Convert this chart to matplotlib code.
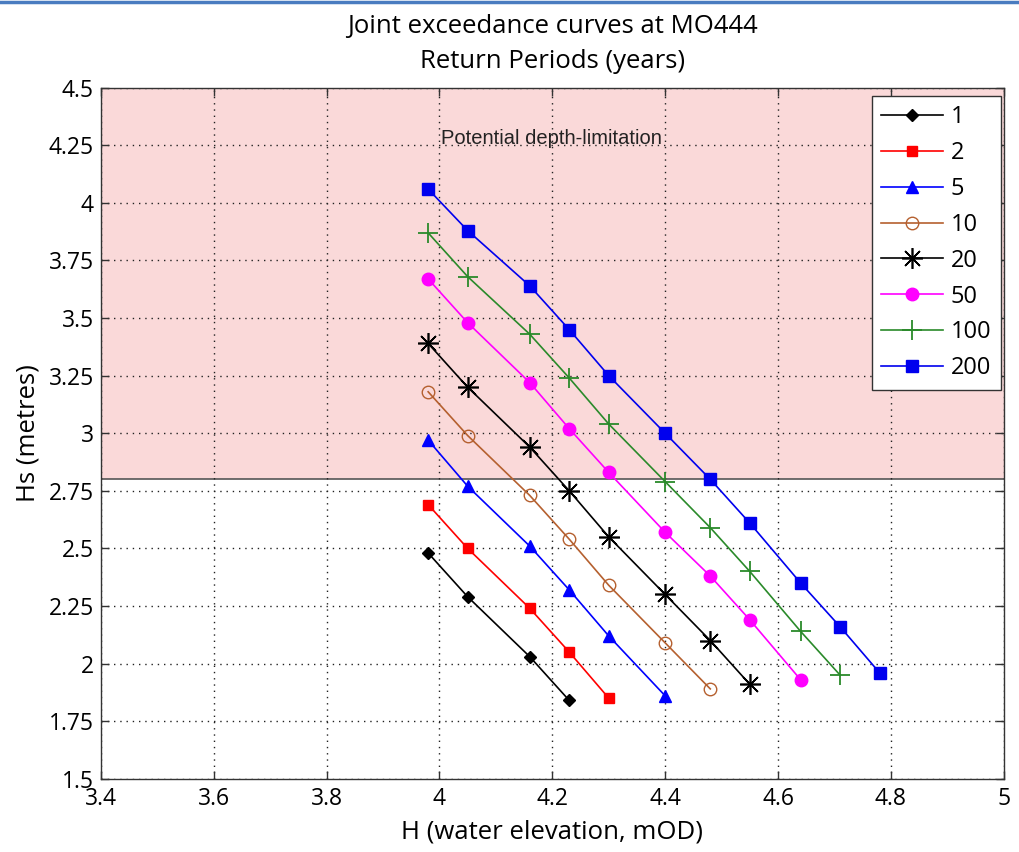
import matplotlib
matplotlib.use("Agg")
import matplotlib.pyplot as plt
from matplotlib.lines import Line2D
from matplotlib.patches import Rectangle

H_levels = [3.98, 4.05, 4.16, 4.23, 4.30, 4.40, 4.48, 4.55, 4.64, 4.71, 4.78]
rp_labels = ["1", "2", "5", "10", "20", "50", "100", "200"]
hs_1 = [2.48, 2.29, 2.03, 1.84]
hs_2 = [2.69, 2.50, 2.24, 2.05, 1.85]
hs_5 = [2.97, 2.77, 2.51, 2.32, 2.12, 1.86]
hs_10 = [3.18, 2.99, 2.73, 2.54, 2.34, 2.09, 1.89]
hs_20 = [3.39, 3.20, 2.94, 2.75, 2.55, 2.30, 2.10, 1.91]
hs_50 = [3.67, 3.48, 3.22, 3.02, 2.83, 2.57, 2.38, 2.19, 1.93]
hs_100 = [3.87, 3.68, 3.43, 3.24, 3.04, 2.79, 2.59, 2.40, 2.14, 1.95]
hs_200 = [4.06, 3.88, 3.64, 3.45, 3.25, 3.00, 2.80, 2.61, 2.35, 2.16, 1.96]
depth_limit = 2.8

x_ticks = [3.4, 3.6, 3.8, 4.0, 4.2, 4.4, 4.6, 4.8, 5.0]
x_ticklabels = ["3.4", "3.6", "3.8", "4", "4.2", "4.4", "4.6", "4.8", "5"]
y_ticks = [1.5, 1.75, 2.0, 2.25, 2.5, 2.75, 3.0, 3.25, 3.5, 3.75, 4.0, 4.25, 4.5]
y_ticklabels = ["1.5", "1.75", "2", "2.25", "2.5", "2.75", "3", "3.25", "3.5", "3.75", "4", "4.25", "4.5"]

plt.rcParams['font.family'] = ['Open Sans', 'DejaVu Sans']

fig = plt.figure(figsize=(10.19, 8.52), dpi=100)
ax = fig.add_axes([0.099, 0.086, 0.886, 0.811])

ax.set_xlim(3.4, 5.0)
ax.set_ylim(1.5, 4.5)

ax.add_patch(Rectangle((3.4, depth_limit), 1.6, 4.5 - depth_limit,
                       facecolor='#fad9d9', edgecolor='none', zorder=0))
ax.axhline(depth_limit, color='#555555', lw=1.2, zorder=1)

series = [
    (hs_1, dict(color='black', marker='D', ms=6, mfc='black', mec='black')),
    (hs_2, dict(color='#ff0000', marker='s', ms=7.5, mfc='#ff0000', mec='#ff0000')),
    (hs_5, dict(color='#0000ff', marker='^', ms=8.5, mfc='#0000ff', mec='#0000ff')),
    (hs_10, dict(color='#b5602f', marker='o', ms=9, mfc='none', mec='#b5602f')),
    (hs_20, dict(color='black', marker=(8, 2, 0), ms=15, mew=1.2)),
    (hs_50, dict(color='#ff00ff', marker='o', ms=9, mfc='#ff00ff', mec='#ff00ff')),
    (hs_100, dict(color='#2a8a2a', marker='+', ms=15, mew=1.3)),
    (hs_200, dict(color='#0000ee', marker='s', ms=8.5, mfc='#0000ee', mec='#0000ee')),
]
for (vals, style), lab in zip(series, rp_labels):
    ax.plot(H_levels[:len(vals)], vals, lw=1.2, label=lab, zorder=3, **style)

ax.text(4.198, 4.28, "Potential depth-limitation", family='Liberation Sans',
        fontsize=14.5, ha='center', va='center', zorder=2, color='#222222')

ax.set_xticks(x_ticks)
ax.set_xticklabels(x_ticklabels)
ax.set_yticks(y_ticks)
ax.set_yticklabels(y_ticklabels)
ax.tick_params(direction='in', length=6, labelsize=16.5, top=True, right=True,
               color='#333333', width=1)
ax.tick_params(axis='x', pad=6)
ax.tick_params(axis='y', pad=5)
ax.grid(True, color='#222222', linestyle=(0, (1, 3.5)), lw=1.0)
for s in ax.spines.values():
    s.set_color('#333333')
    s.set_linewidth(1.0)

ax.set_xlabel("H (water elevation, mOD)", fontsize=18.5, labelpad=6)
ax.set_ylabel("Hs (metres)", fontsize=18.5, labelpad=6)
ax.set_title("Joint exceedance curves at MO444\nReturn Periods (years)",
             fontsize=18.5, pad=14, linespacing=1.55)

leg = ax.legend(loc='upper right', bbox_to_anchor=(0.997, 0.988),
                fontsize=17, handlelength=2.6,
                frameon=True, fancybox=False, edgecolor='#333333',
                borderaxespad=0.0, labelspacing=0.5, handletextpad=0.35,
                borderpad=0.4)
leg.get_frame().set_linewidth(1.0)
leg.get_frame().set_facecolor('white')
leg.get_frame().set_alpha(1.0)

fig.add_artist(Line2D([0, 1], [0.998, 0.998], color='#4a7cc0', lw=2.5,
                      transform=fig.transFigure))

fig.savefig("out.png", dpi=100)
